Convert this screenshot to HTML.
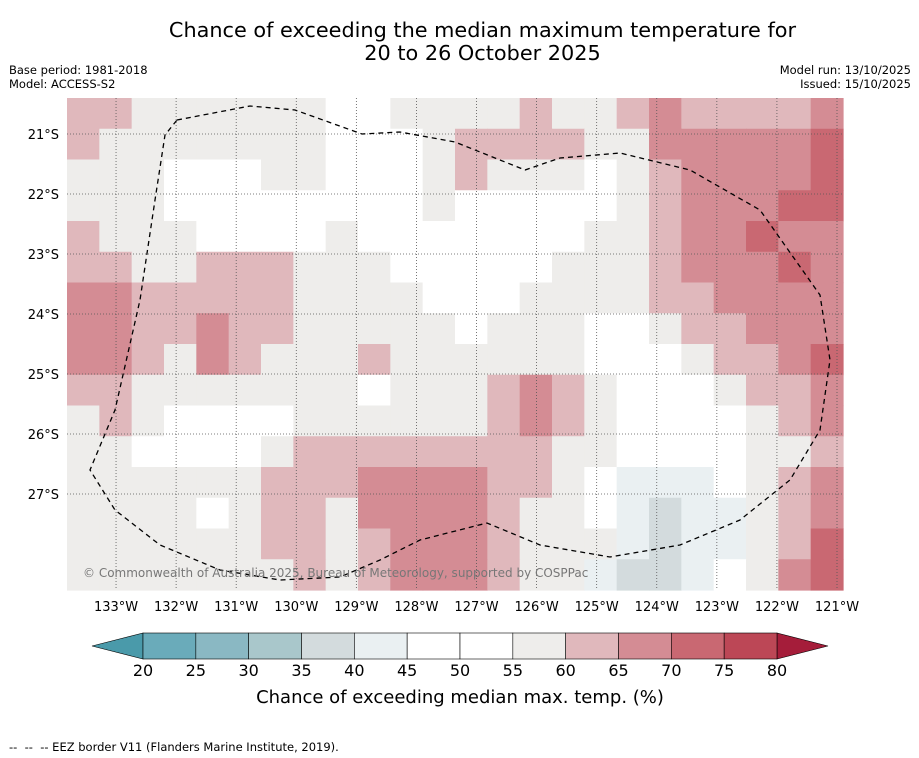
<!DOCTYPE html>
<html><head><meta charset="utf-8">
<style>
body{margin:0;background:#fff;font-family:"DejaVu Sans","Liberation Sans",sans-serif;}
#wrap{position:relative;width:919px;height:758px;overflow:hidden;}
.t{position:absolute;color:#000;}
svg text{font-family:"DejaVu Sans","Liberation Sans",sans-serif;}
</style></head>
<body>
<div id="wrap">
<div class="t" style="left:0;width:965px;top:19px;text-align:center;font-size:20.8px;line-height:23px;">Chance of exceeding the median maximum temperature for<br>20 to 26 October 2025</div>
<div class="t" style="left:9px;top:63px;font-size:11.5px;line-height:14px;">Base period: 1981-2018<br>Model: ACCESS-S2</div>
<div class="t" style="right:8px;top:63px;font-size:11.5px;line-height:14px;text-align:right;">Model run: 13/10/2025<br>Issued: 15/10/2025</div>
<svg id="svg" width="919" height="758" style="position:absolute;left:0;top:0"></svg>
<div class="t" style="left:9px;top:740px;font-size:11.5px;">--&nbsp; --&nbsp; -- EEZ border V11 (Flanders Marine Institute, 2019).</div>
</div>
<script>
const lonTicks=[-133,-132,-131,-130,-129,-128,-127,-126,-125,-124,-123,-122,-121];
const latTicks=[-21,-22,-23,-24,-25,-26,-27];
const cbTicks=[20,25,30,35,40,45,50,55,60,65,70,75,80];
const cbColors=["#6aabba","#8ab8c3","#a9c7cb","#d3dbdd","#eaf0f2","#ffffff","#ffffff","#eeedeb","#e0b8bc","#d48c94","#c96872","#bc4756"];
const gridRows=[
"PPGGGGGGWWGGGGPGGPMPPPPM",
"PGGGGGGGWWWGPPPPGGMMMMMD",
"GGGWWWGGWWWGPGGGWGPMMMMD",
"GGGWWWWWWWWGWWWWWGPMMMDD",
"PGGGWWWWGWWWWWWWGGPMMDMM",
"PPGGPPPGGGWWWWWGGGPMMMDM",
"MMPPPPPGGGGWWWGGGGPPMMMM",
"MMPPMPPGGGGGWGGGWWGPPMMM",
"MMPGMPGGGPGGGGGGWWWGPPMD",
"PPGGGGGGGWGGGPMPGWWWGPPM",
"GPGWWWWGGGGGGPMPGWWWWGPM",
"GGWWWWGPPPPPPPPGGWWWWGGP",
"GGGGGGPPPMMMMPPGWBBBWGPM",
"GGGGWGPPGMMMMPGGWBSBBGPM",
"GGGGGGPPGPMMMPGGGBSBBGPD",
"GGGGGGGPGPMMMPGGBSSBWGMD"];
const codeVal={S:37,B:42,W:50,G:57,P:62,M:67,D:72,E:77};
const NS="http://www.w3.org/2000/svg";
const svg=document.getElementById('svg');
const X0=67,Y0=98,W=776,H=492;
const xOf=lon=>837+(lon+121)*60.08;
const yOf=lat=>134+(-21-lat)*60;
function colorOf(v){let i=Math.floor((v-20)/5);i=Math.max(0,Math.min(11,i));return cbColors[i];}
function mk(tag,attrs,parent){const e=document.createElementNS(NS,tag);for(const k in attrs)e.setAttribute(k,attrs[k]);(parent||svg).appendChild(e);return e;}
const cw=W/gridRows[0].length,ch=H/gridRows.length;
const g=mk('g',{});


gridRows.forEach((row,j)=>{[...row].forEach((c,i)=>{
 const r=mk('rect',{x:X0+i*cw,y:Y0+j*ch,width:cw+0.6,height:ch+0.6,fill:colorOf(codeVal[c])},g);
 
 
});});
lonTicks.forEach(l=>{const x=xOf(l);
 const ln=mk('line',{x1:x,x2:x,y1:Y0,y2:Y0+H,stroke:'#555','stroke-width':0.8,'stroke-dasharray':'1,2'});
 
 
 const t=mk('text',{x:x,y:611,'font-size':13,'text-anchor':'middle'});t.textContent=Math.abs(l)+'°W';
 
 
});
latTicks.forEach(l=>{const y=yOf(l);
 const ln=mk('line',{x1:X0,x2:X0+W,y1:y,y2:y,stroke:'#555','stroke-width':0.8,'stroke-dasharray':'1,2'});
 
 
 const t=mk('text',{x:59,y:y+5,'font-size':13,'text-anchor':'end'});t.textContent=Math.abs(l)+'°S';
 
 
});
const eez=[[177,120],[250,106],[295,110],[362,134],[400,132],[455,142],[525,170],[560,158],[620,153],[690,170],[760,210],[820,295],[830,360],[820,430],[790,480],[740,520],[680,545],[610,557],[540,545],[487,523],[420,540],[380,560],[340,577],[280,580],[220,570],[160,545],[115,510],[90,470],[115,410],[140,300],[155,200],[165,135],[177,120]];
const p=mk('polyline',{points:eez.map(a=>a.join(',')).join(' '),fill:'none',stroke:'#000','stroke-width':1.3,'stroke-dasharray':'5,4'});


const cp=mk('text',{x:83,y:577,'font-size':12,fill:'#777'});cp.textContent='© Commonwealth of Australia 2025, Bureau of Meteorology, supported by COSPPac';


const cbX=143,cbW=(777-143)/12,cbY=633,cbH=26;
const lt=mk('polygon',{points:`92,646 ${cbX},${cbY} ${cbX},${cbY+cbH}`,fill:'#4a9aaa',stroke:'#000','stroke-width':0.6});


const rt=mk('polygon',{points:`828,646 777,${cbY} 777,${cbY+cbH}`,fill:'#a51d3a',stroke:'#000','stroke-width':0.6});


cbColors.forEach((c,i)=>{const r=mk('rect',{x:cbX+i*cbW,y:cbY,width:cbW,height:cbH,fill:c,stroke:'#000','stroke-width':0.6});
 
 });
cbTicks.forEach((v,i)=>{const t=mk('text',{x:cbX+i*cbW,y:676,'font-size':16,'text-anchor':'middle'});t.textContent=v;
 
 });
const ct=mk('text',{x:460,y:703,'font-size':18,'text-anchor':'middle'});ct.textContent='Chance of exceeding median max. temp. (%)';


</script>
</body></html>
